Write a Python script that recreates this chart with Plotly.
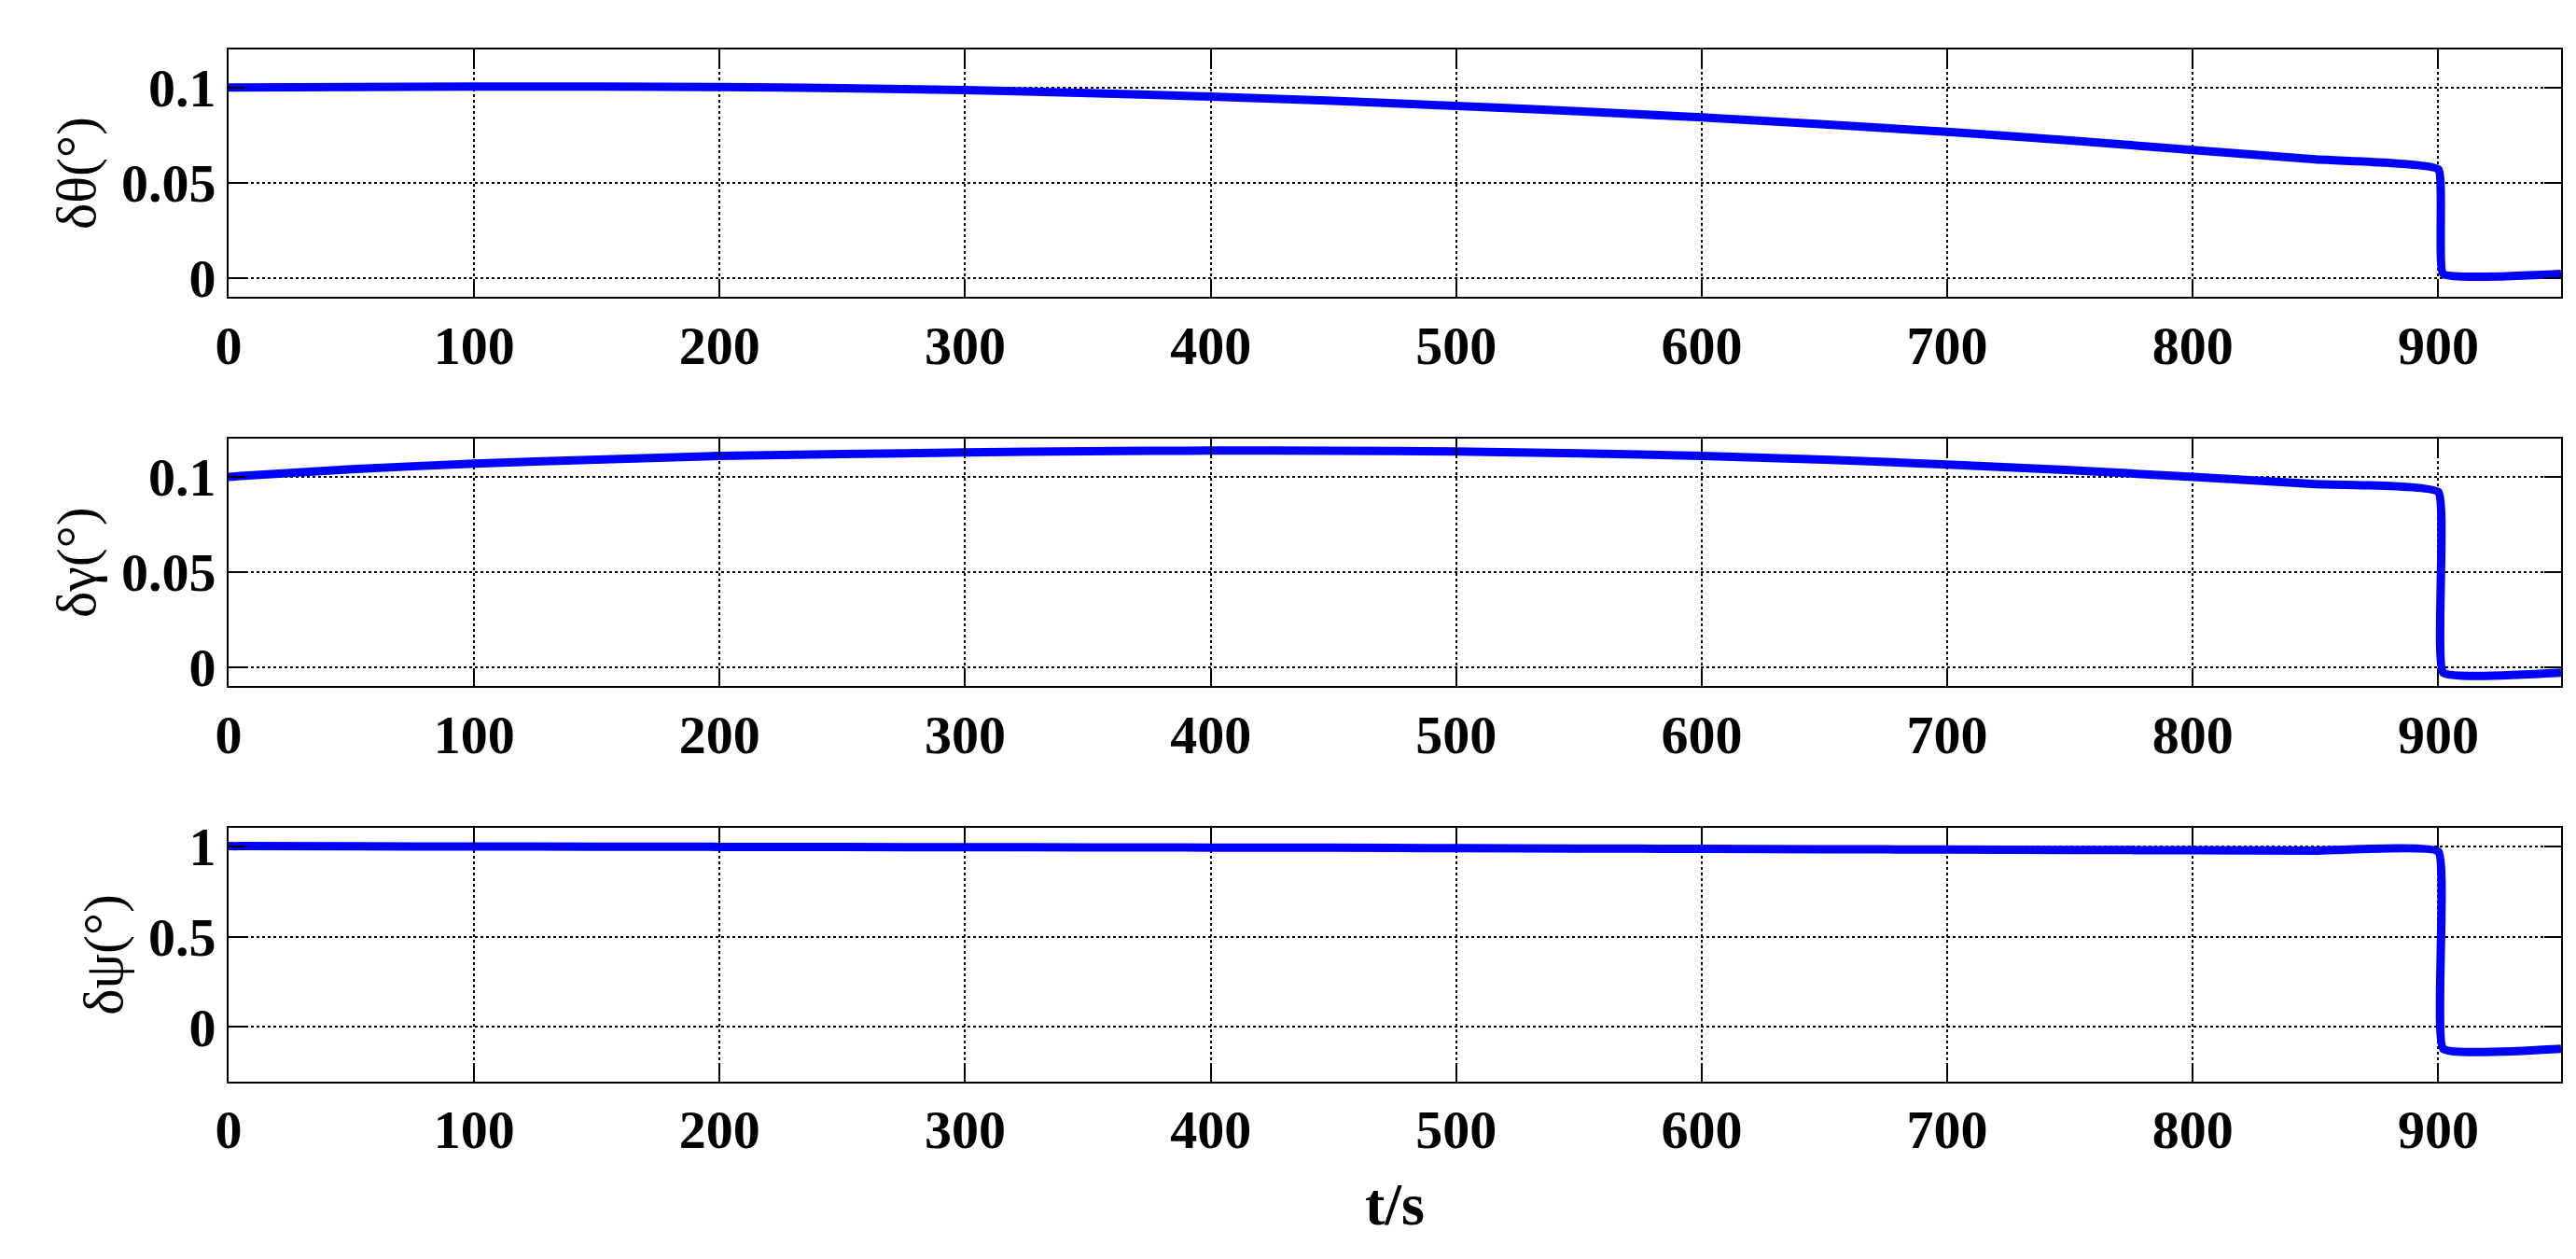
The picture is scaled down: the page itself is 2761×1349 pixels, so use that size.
import plotly.graph_objects as go
from plotly.subplots import make_subplots

t = [0, 50, 100, 150, 200, 250, 300, 350, 400, 450, 500, 550, 600, 650, 700, 750, 800, 850, 900, 902, 950]
theta = [0.100, 0.1003, 0.1005, 0.1005, 0.1003, 0.0997, 0.0987, 0.0971, 0.0953, 0.0930, 0.0904, 0.0875, 0.0843, 0.0806, 0.0767, 0.0722, 0.0672, 0.0622, 0.0570, 0.002, 0.002]
gamma = [0.100, 0.104, 0.107, 0.109, 0.111, 0.112, 0.1128, 0.1135, 0.1138, 0.1137, 0.1133, 0.1124, 0.1110, 0.1090, 0.1065, 0.1035, 0.1000, 0.0962, 0.0920, -0.003, -0.003]
psi = [1.000, 0.999, 0.998, 0.997, 0.996, 0.995, 0.994, 0.993, 0.992, 0.991, 0.989, 0.987, 0.985, 0.983, 0.981, 0.979, 0.977, 0.975, 0.970, -0.12, -0.12]

ylabels = ["δθ(°)", "δγ(°)", "δψ(°)"]
series = [theta, gamma, psi]
yranges = [[-0.01, 0.12], [-0.01, 0.12], [-0.3, 1.1]]
ytickv = [[0, 0.05, 0.1], [0, 0.05, 0.1], [0, 0.5, 1]]
yticks = [["0", "0.05", "0.1"], ["0", "0.05", "0.1"], ["0", "0.5", "1"]]
xticks = [0, 100, 200, 300, 400, 500, 600, 700, 800, 900]
domains = [[0.775, 0.975], [0.46, 0.66], [0.14, 0.345]]

fig = make_subplots(rows=3, cols=1)
font = "Liberation Serif"
for i in range(3):
    fig.add_trace(go.Scatter(x=t, y=series[i], mode="lines", line=dict(color="#0000ff", width=9, shape="spline", smoothing=0.3), showlegend=False), row=i+1, col=1)
    fig.update_yaxes(domain=domains[i], range=yranges[i], tickvals=ytickv[i], ticktext=yticks[i],
                     title=dict(text=ylabels[i], font=dict(family=font, size=60, color="black"), standoff=8),
                     row=i+1, col=1)
    fig.update_xaxes(range=[0, 950], tickvals=xticks, row=i+1, col=1)

common = dict(showline=True, linecolor="black", linewidth=2, mirror="ticks", ticks="inside", ticklen=18,
              tickwidth=2, tickcolor="black", showgrid=True, gridcolor="black", griddash="dot", gridwidth=2,
              zeroline=False, tickfont=dict(family=font, size=58, color="black", weight="bold"))
fig.update_xaxes(**common)
fig.update_yaxes(**common)
fig.update_xaxes(title=dict(text="t/s", font=dict(family=font, size=64, color="black", weight="bold"), standoff=25), row=3, col=1)

fig.update_layout(width=2761, height=1349, margin=dict(l=237, r=24, t=0, b=0),
                  plot_bgcolor="white", paper_bgcolor="white")
fig.write_html("out.html")
